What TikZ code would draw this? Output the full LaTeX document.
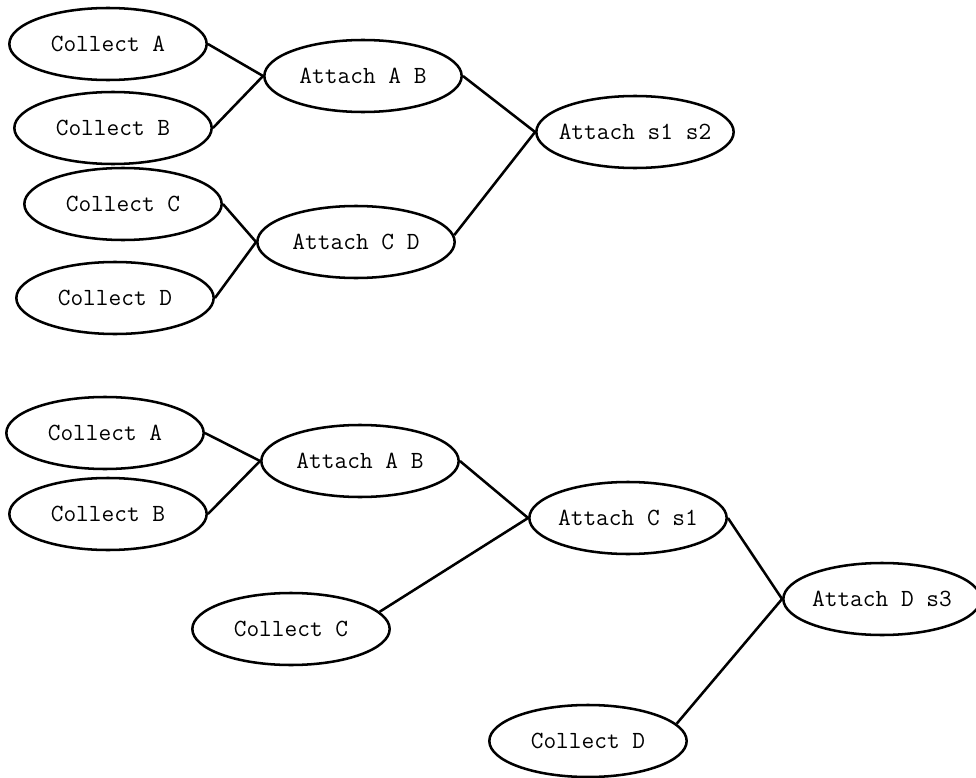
\documentclass[tikz,border=0pt]{standalone}
\usepackage{fontspec}
\usepackage{tikz}
\usetikzlibrary{shapes.geometric}

\begin{document}
\begin{tikzpicture}[x=0.75pt,y=-0.75pt]
            \tikzstyle{task}=[draw,ellipse,line width=1.9pt,inner xsep=-8pt,inner ysep=0pt,minimum width=148pt,minimum height=54pt,font=\ttfamily\fontsize{18.5}{21}\selectfont]
            \tikzstyle{link}=[line width=1.9pt]
            \useasboundingbox (0,0) rectangle (976,778);
            \node[task] (ca) at (108,44) {Collect A};
            \node[task] (cb) at (113,128) {Collect B};
            \node[task] (cc) at (123,204) {Collect C};
            \node[task] (cd) at (115,298) {Collect D};
            \node[task] (aab) at (363,76) {Attach A B};
            \node[task] (acd) at (356,242) {Attach C D};
            \node[task] (as12) at (635,132) {Attach s1 s2};
            \draw[link] (ca.east) -- (aab.west);
            \draw[link] (cb.east) -- (aab.west);
            \draw[link] (cc.east) -- (acd.west);
            \draw[link] (cd.east) -- (acd.west);
            \draw[link] (aab.east) -- (as12.west);
            \draw[link] (acd.4) -- (as12.west);

            \node[task] (ca2) at (105,433) {Collect A};
            \node[task] (cb2) at (108,514) {Collect B};
            \node[task] (aab2) at (360,461) {Attach A B};
            \node[task] (acs1) at (628,518) {Attach C s1};
            \node[task] (cc2) at (291,629) {Collect C};
            \node[task] (ads3) at (882,599) {Attach D s3};
            \node[task] (cd2) at (588,741) {Collect D};
            \draw[link] (ca2.east) -- (aab2.west);
            \draw[link] (cb2.east) -- (aab2.west);
            \draw[link] (aab2.east) -- (acs1.west);
            \draw[link] (cc2.11) -- (acs1.west);
            \draw[link] (acs1.east) -- (ads3.west);
            \draw[link] (cd2.11) -- (ads3.west);
        \end{tikzpicture}
\end{document}
